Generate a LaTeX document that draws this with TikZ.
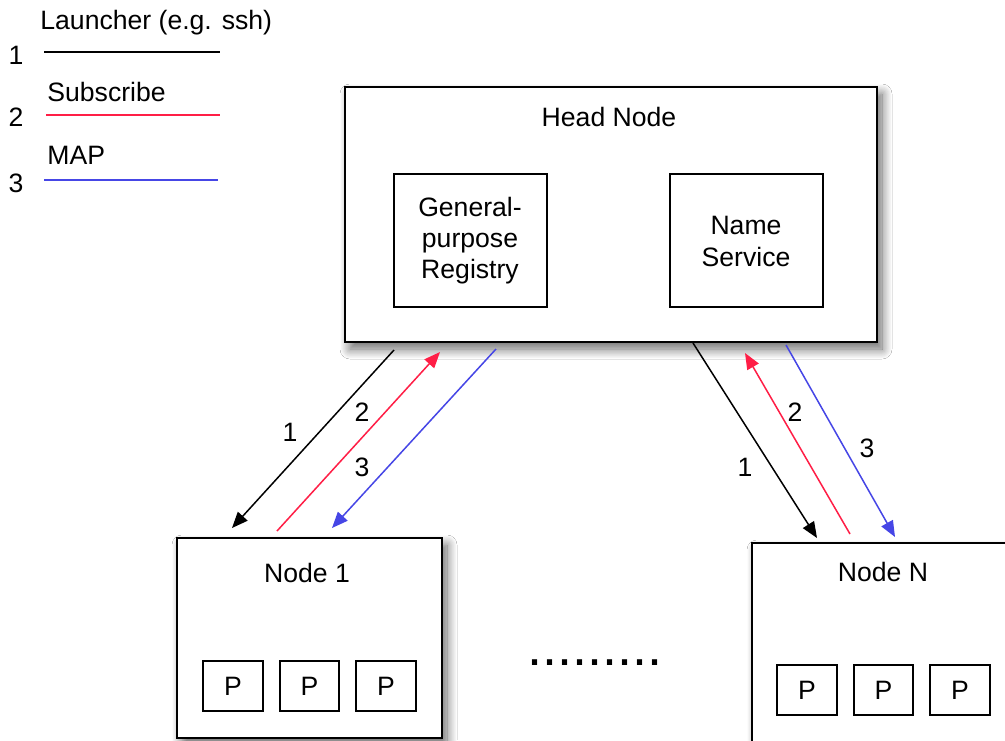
\documentclass[tikz,border=0pt]{standalone}
\usepackage{fontspec}
\setmainfont{Liberation Sans}
\usetikzlibrary{arrows.meta,fit,shadows.blur}
\definecolor{lred}{RGB}{255,30,70}
\definecolor{lblue}{RGB}{70,70,230}
\begin{document}
\begin{tikzpicture}[x=0.5pt,y=-0.5pt,
  every node/.style={font=\fontsize{13.3}{15.5}\selectfont, inner sep=0pt},
  box/.style={draw, line width=1.1pt, fill=white, inner sep=0pt, outer sep=0pt},
  shad/.style={blur shadow={shadow xshift=2.5pt, shadow yshift=-3.5pt, shadow blur radius=5pt, shadow blur steps=12, shadow opacity=60}},
  pbox/.style={draw, line width=0.9pt, fill=white, inner sep=0pt},
  conn/.style={line width=0.75pt, -{Triangle[length=8pt,width=6.5pt]}},
  legline/.style={line width=1pt},
  lbl/.style={align=center}
]
\useasboundingbox (0,0) rectangle (1005,740);
\fill[white] (0,0) rectangle (1005,740);

% legend
\node[anchor=west] (leg1t) at (40,23) {Launcher (e.g. ssh)};
\node (leg1n) at (16,55) {1};
\coordinate (l1a) at (44,52); \coordinate (l1b) at (220,52);
\draw[legline,black] (l1a) -- (l1b);
\node[anchor=west] (leg2t) at (47,92) {Subscribe};
\node (leg2n) at (16,117) {2};
\coordinate (l2a) at (46,115); \coordinate (l2b) at (220,115);
\draw[legline,lred] (l2a) -- (l2b);
\node[anchor=west] (leg3t) at (47,155) {MAP};
\node (leg3n) at (16,183) {3};
\coordinate (l3a) at (44,180); \coordinate (l3b) at (218,180);
\draw[legline,lblue] (l3a) -- (l3b);

% head node
\node[box,shad,fit={(345,87)(877,342)}] (head) {};
\node (headlbl) at (609,117) {Head Node};
\node[box,fit={(394,174)(547,307)}] (reg) {};
\node[lbl] (reglbl) at (470,241) {General-\\purpose\\Registry};
\node[box,fit={(670,174)(823,307)}] (ns) {};
\node[lbl,font=\fontsize{13.3}{16}\selectfont] (nslbl) at (746,241) {Name\\Service};

% node 1
\node[box,shad,fit={(177,538)(442,738)}] (n1) {};
\node (n1lbl) at (307,573) {Node 1};
\node[pbox,fit={(203,661)(263,711)}] (p11) {};
\node[pbox,fit={(280,661)(339,711)}] (p12) {};
\node[pbox,fit={(356,661)(416,711)}] (p13) {};
\node (p11t) at (p11.center) {P};
\node (p12t) at (p12.center) {P};
\node (p13t) at (p13.center) {P};

% node N
\node[box,shad,fit={(752,543)(1020,760)}] (nN) {};
\node (nNlbl) at (883,572) {Node N};
\node[pbox,fit={(777,665)(837,715)}] (pN1) {};
\node[pbox,fit={(854,665)(913,715)}] (pN2) {};
\node[pbox,fit={(930,665)(990,715)}] (pN3) {};
\node (pN1t) at (pN1.center) {P};
\node (pN2t) at (pN2.center) {P};
\node (pN3t) at (pN3.center) {P};

% dots
\node[font=\fontsize{27}{27}\selectfont] (dots) at (595,663) {.........};

% left connectors
\coordinate (a1s) at (394,350); \coordinate (a1e) at (232,528);
\coordinate (a2s) at (277,531); \coordinate (a2e) at (440,352);
\coordinate (a3s) at (496,349); \coordinate (a3e) at (332,528);
\draw[conn,black] (a1s) -- (a1e);
\draw[conn,lred] (a2s) -- (a2e);
\draw[conn,lblue] (a3s) -- (a3e);
\node (c1) at (290,432) {1};
\node (c2) at (362,412) {2};
\node (c3) at (362,467) {3};

% right connectors
\coordinate (b1s) at (693,343); \coordinate (b1e) at (817,538);
\coordinate (b2s) at (850,534); \coordinate (b2e) at (745,353);
\coordinate (b3s) at (786,345); \coordinate (b3e) at (895,537);
\draw[conn,black] (b1s) -- (b1e);
\draw[conn,lred] (b2s) -- (b2e);
\draw[conn,lblue] (b3s) -- (b3e);
\node (d1) at (745,467) {1};
\node (d2) at (795,412) {2};
\node (d3) at (867,448) {3};
\end{tikzpicture}
\end{document}
